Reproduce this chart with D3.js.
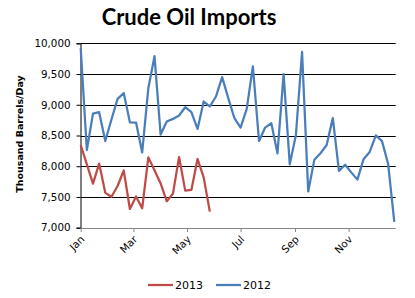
<!DOCTYPE html>
<html>
<head>
<meta charset="utf-8">
<script src="https://cdn.jsdelivr.net/npm/d3@7"></script>
<style>
  body { margin: 0; background: #fff; }
  svg { display: block; }
</style>
</head>
<body>
<svg id="chart"></svg>
<script>
// weekly crude oil imports, thousand barrels/day
const values2012 = [9920, 8265, 8855, 8880, 8410, 8760, 9095, 9190, 8715, 8710,
  8225, 9270, 9790, 8515, 8727, 8770, 8825, 8960, 8880, 8607,
  9053, 8972, 9135, 9450, 9108, 8781, 8629, 8934, 9625, 8411,
  8629, 8700, 8210, 9499, 8030, 8509, 9859, 7590, 8105, 8211,
  8345, 8783, 7925, 8025, 7900, 7782, 8115, 8232, 8503, 8408,
  8035, 7096];
const values2013 = [8345, 8030, 7717, 8043, 7567, 7503, 7679, 7930, 7305, 7508,
  7316, 8144, 7936, 7720, 7430, 7555, 8150, 7603, 7614, 8118,
  7818, 7262];
const yTicks = [7000, 7500, 8000, 8500, 9000, 9500, 10000];
const monthLabels = ['Jan', 'Mar', 'May', 'Jul', 'Sep', 'Nov'];
const seriesNames = ['2013', '2012'];

const width = 415;
const height = 298;
const firstWeek = new Date(2012, 0, 6);
const weeks = d3.range(values2012.length).map(i => d3.timeWeek.offset(firstWeek, i));
const monthTicks = monthLabels.map((m, i) => new Date(2012, i * 2, 6));

const svg = d3.select('#chart').attr('width', width).attr('height', height);

const x = d3.scaleTime().domain([weeks[0], weeks[weeks.length - 1]]).range([80.7, 394.3]);
const y = d3.scaleLinear().domain([7000, 10000]).range([227.7, 43.3]);

// gridlines
svg.append('g')
  .selectAll('line').data(yTicks.slice(1)).enter().append('line')
  .attr('x1', 80.7).attr('x2', 395.7)
  .attr('y1', d => Math.round(y(d)) + 0.5).attr('y2', d => Math.round(y(d)) + 0.5)
  .attr('stroke', '#000').attr('stroke-width', 1);

// y axis
const yAxis = d3.axisLeft(y).tickValues(yTicks).tickSize(4).tickPadding(6)
  .tickFormat(d3.format(','));
const gy = svg.append('g').attr('transform', 'translate(80.5,0)').call(yAxis);
gy.select('.domain').attr('stroke', '#000');
gy.selectAll('.tick line').attr('stroke', '#000');
gy.selectAll('text').attr('font-family', 'DejaVu Sans').attr('font-size', '10.3px').attr('fill', '#000');

// x axis
const xAxis = d3.axisBottom(x).tickValues(monthTicks).tickSize(4).tickSizeOuter(0)
  .tickFormat((d, i) => monthLabels[i]);
const gx = svg.append('g').attr('transform', 'translate(0,228)').call(xAxis);
gx.select('.domain').attr('stroke', '#868686').attr('d', 'M80.7,0.5H395.7');
gx.selectAll('.tick line').attr('stroke', '#868686');
gx.selectAll('text')
  .attr('font-family', 'DejaVu Sans').attr('font-size', '10.3px').attr('fill', '#000')
  .attr('text-anchor', 'end')
  .attr('y', 0).attr('dy', 0)
  .attr('transform', 'translate(4,12) rotate(-45)');

// lines
const line = d3.line().x((d, i) => x(weeks[i])).y(d => y(d));
svg.append('path').datum(values2012).attr('d', line)
  .attr('fill', 'none').attr('stroke', '#4A7EBB').attr('stroke-width', 2.25).attr('stroke-linejoin', 'round');
svg.append('path').datum(values2013).attr('d', line)
  .attr('fill', 'none').attr('stroke', '#BE4B48').attr('stroke-width', 2.25).attr('stroke-linejoin', 'round');

// title
svg.append('text').attr('x', 189).attr('y', 25).attr('text-anchor', 'middle')
  .attr('font-family', 'Lato').attr('font-weight', 'bold').attr('font-size', '22px')
  .text('Crude Oil Imports');

// y title
svg.append('text').attr('transform', 'translate(23,134) rotate(-90)').attr('text-anchor', 'middle')
  .attr('font-family', 'DejaVu Sans').attr('font-weight', 'bold').attr('font-size', '9.5px')
  .text('Thousand Barrels/Day');

// legend
const legendColors = ['#BE4B48', '#4A7EBB'];
const legend = svg.append('g').attr('transform', 'translate(148,285)');
seriesNames.forEach((name, i) => {
  const g = legend.append('g').attr('transform', `translate(${i * 68},0)`);
  g.append('line').attr('x1', 0).attr('x2', 25).attr('y1', 0).attr('y2', 0)
    .attr('stroke', legendColors[i]).attr('stroke-width', 2.25);
  g.append('text').attr('x', 27).attr('y', 4)
    .attr('font-family', 'DejaVu Sans').attr('font-size', '11px').text(name);
});
</script>
</body>
</html>
